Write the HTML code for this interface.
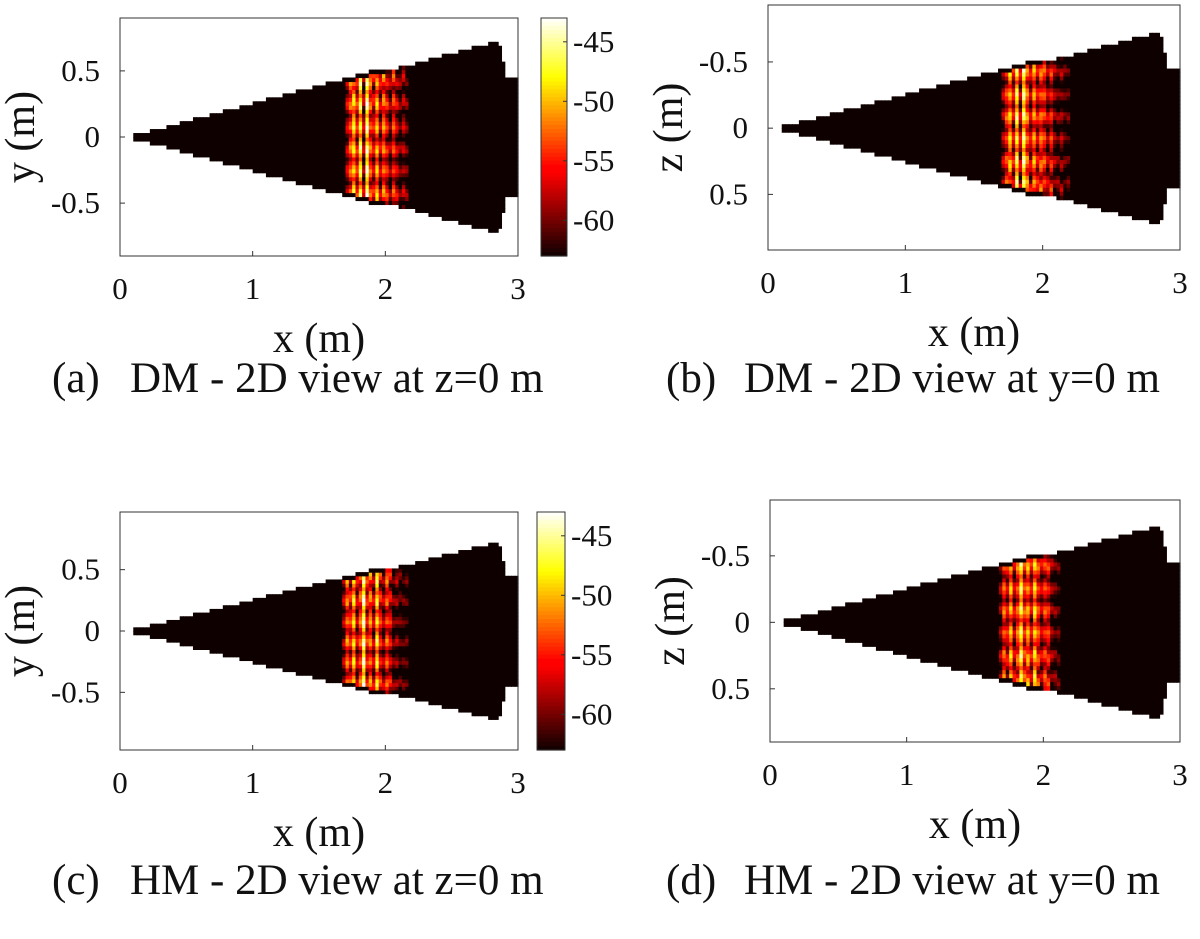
<!DOCTYPE html>
<html><head><meta charset="utf-8">
<style>
body{margin:0;background:#fff;}
svg text{font-family:"Liberation Serif",serif;fill:#111;}
</style></head>
<body>
<svg id="fig" width="1200" height="934" viewBox="0 0 1200 934" xmlns="http://www.w3.org/2000/svg"></svg>
<script>
// data arrays
const xTicks = [0, 1, 2, 3];
const yTicksYZ = [0.5, 0, -0.5];
const zTicks = [-0.5, 0, 0.5];
const cbTicks = [-45, -50, -55, -60];
const cbRange = [-63, -43];
const backgroundDb = -63;
const bandStartX = [1.68, 1.68, 1.65, 1.65];
const bandEndX = [2.15, 2.18, 2.15, 2.12];
// band column profile (dB) per 0.025 m column
const colProfileA = [-58,-54,-50,-56,-48,-59,-46,-54,-57,-51,-58,-53,-56,-60,-55,-58,-61,-59,-61];
const colProfileB = [-59,-55,-51,-57,-48,-58,-47,-53,-58,-52,-57,-54,-55,-59,-56,-60,-61,-60,-62];
const colProfileC = [-59,-53,-56,-50,-58,-54,-46,-56,-53,-58,-49,-56,-59,-54,-57,-61,-60,-62,-62];
const colProfileD = [-60,-54,-57,-51,-58,-54,-48,-55,-52,-57,-50,-55,-58,-55,-56,-60,-61,-62,-62];
const rowMod = [0,-2,-5,-3,2,3,1,-4,-7,-3,2,4,1,-2,-6,-4,0,3,2,-3,-5,-1,3,1,-4,-8,-4,1,3,0,-2,-6,-3,2,4,1,-3,-6,-2,2,0,-4,-7,-2,3,2,-1,-5,-3,1,4,2];

const svg = document.getElementById('fig');
const NS = 'http://www.w3.org/2000/svg';
function el(tag, attrs, parent){const e=document.createElementNS(NS,tag);for(const k in attrs)e.setAttribute(k,attrs[k]);(parent||svg).appendChild(e);return e;}
function hot(v){
  let t=(v-cbRange[0])/(cbRange[1]-cbRange[0]); t=Math.max(0,Math.min(1,t));
  const r=Math.min(1,0.06+t/0.375), g=Math.max(0,Math.min(1,(t-0.375)/0.375)), b=Math.max(0,Math.min(1,(t-0.75)/0.25));
  return `rgb(${Math.round(r*255)},${Math.round(g*255)},${Math.round(b*255)})`;
}
function txt(s,x,y,size,anchor,parent,name,rot){
  const t=el('text',{x:x,y:y,'font-size':size,'text-anchor':anchor||'middle'},parent);
  if(rot)t.setAttribute('transform',`rotate(-90 ${x} ${y})`);
  
  
  t.textContent=s;return t;
}

function panel(p){
  const g=el('g',{});
  
  
  const sx=x=>p.x0+(x-p.xmin)*(p.x1-p.x0)/(p.xmax-p.xmin);
  const sy=y=>p.y0+(y-p.ymin)*(p.y1-p.y0)/(p.ymax-p.ymin);
  const hm=el('g',{},g);
  
  
  const dx=0.025, dy=0.03;
  for(let x=0.1;x<3.0;x+=dx){
    const stepX=Math.floor(x/0.11)*0.11;
    const yMax=Math.max(0.03,0.265*stepX);
    for(let y=-0.78;y<0.78;y+=dy){
      const yc=y+dy/2;
      if(Math.abs(yc)>yMax)continue;
      if(Math.sqrt(x*x+yc*yc)>2.93 && !(Math.abs(yc)<0.45 && x<2.98))continue;
      let v=backgroundDb;
      if(x>=p.bs && x<p.be && Math.abs(yc)<yMax-0.02){
        const ci=Math.floor((x-p.bs)/dx);
        const ri=Math.floor((y+0.78)/dy);
        v=p.prof[Math.min(ci,p.prof.length-1)]+0.8*rowMod[(ri+(ci%3)*11)%rowMod.length];
      }
      const r=el('rect',{x:sx(x),y:Math.min(sy(y),sy(y+dy)),width:Math.abs(sx(x+dx)-sx(x))+0.6,height:Math.abs(sy(y+dy)-sy(y))+0.6,fill:hot(v)},hm);
      
      
    }
  }
  const box=el('rect',{x:p.x0,y:Math.min(p.y0,p.y1),width:p.x1-p.x0,height:Math.abs(p.y1-p.y0),fill:'none',stroke:'#333','stroke-width':1},g);
  
  
  xTicks.forEach(t=>{
    const X=sx(t);
    el('line',{x1:X,x2:X,y1:p.y1,y2:p.y1-5,stroke:'#333'},g);
    txt(String(t),X,p.y1+43,31,'middle',g,'x-tick-label');
  });
  p.yt.forEach(t=>{
    const Y=sy(t);
    el('line',{x1:p.x0,x2:p.x0+5,y1:Y,y2:Y,stroke:'#333'},g);
    txt(String(t),p.x0-20,Y+10,31,'end',g,'y-tick-label');
  });
  txt('x (m)',(p.x0+p.x1)/2,p.y1+96,42,'middle',g,'x-axis-title');
  txt(p.yl,p.x0-86,(p.y0+p.y1)/2,42,'middle',g,'y-axis-title',true);
  txt(p.capL,p.capX,p.capY,43,'start',g,'caption-label');
  txt(p.cap,p.capX+78,p.capY,43,'start',g,'caption');
  if(p.cb){
    const [cx,cy0,cw,cy1]=p.cb;
    const cg=el('g',{},g);
    
    
    const n=60;
    for(let i=0;i<n;i++){
      const v=cbRange[1]-(i+0.5)*(cbRange[1]-cbRange[0])/n;
      el('rect',{x:cx,y:cy0+i*(cy1-cy0)/n,width:cw,height:(cy1-cy0)/n+0.6,fill:hot(v)},cg);
    }
    el('rect',{x:cx,y:cy0,width:cw,height:cy1-cy0,fill:'none',stroke:'#333'},cg);
    cbTicks.forEach(t=>{
      const Y=cy0+(cbRange[1]-t)*(cy1-cy0)/(cbRange[1]-cbRange[0]);
      el('line',{x1:cx+cw-4,x2:cx+cw,y1:Y,y2:Y,stroke:'#333'},cg);
      txt(String(t),cx+cw+6,Y+10,31,'start',cg,'colorbar-tick-label');
    });
  }
}
panel({name:'panel-a',x0:120,x1:518,xmin:0,xmax:3,y0:18,y1:256,ymin:0.9,ymax:-0.9,yt:yTicksYZ,yl:'y (m)',bs:bandStartX[0],be:bandEndX[0],prof:colProfileA,capL:'(a)',cap:'DM - 2D view at z=0 m',capX:52,capY:392,cb:[541,18,26,256]});
panel({name:'panel-b',x0:768,x1:1180,xmin:0,xmax:3,y0:5,y1:250,ymin:-0.93,ymax:0.92,yt:zTicks,yl:'z (m)',bs:bandStartX[1],be:bandEndX[1],prof:colProfileB,capL:'(b)',cap:'DM - 2D view at y=0 m',capX:666,capY:392});
panel({name:'panel-c',x0:120,x1:518,xmin:0,xmax:3,y0:512,y1:750,ymin:0.97,ymax:-0.97,yt:yTicksYZ,yl:'y (m)',bs:bandStartX[2],be:bandEndX[2],prof:colProfileC,capL:'(c)',cap:'HM - 2D view at z=0 m',capX:52,capY:894,cb:[537,512,28,750]});
panel({name:'panel-d',x0:770,x1:1180,xmin:0,xmax:3,y0:500,y1:742,ymin:-0.92,ymax:0.9,yt:zTicks,yl:'z (m)',bs:bandStartX[3],be:bandEndX[3],prof:colProfileD,capL:'(d)',cap:'HM - 2D view at y=0 m',capX:666,capY:894});
</script>
</body></html>
